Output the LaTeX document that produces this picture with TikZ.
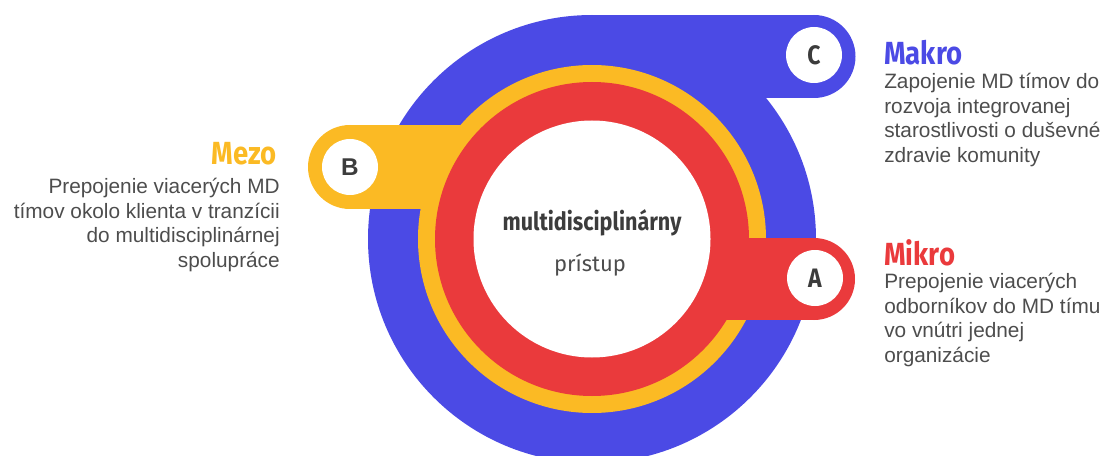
\documentclass[tikz,border=0pt]{standalone}
\usepackage{fontspec}
\setmainfont{Liberation Sans}
\newfontfamily\condfont[FakeStretch=0.86]{Fira Sans}
\newfontfamily\firafont{Fira Sans}
\definecolor{ringblue}{HTML}{4B4AE5}
\definecolor{ringyellow}{HTML}{FBBA24}
\definecolor{ringred}{HTML}{EA3A3C}
\definecolor{bodygray}{HTML}{4D4D4D}
\definecolor{lettergray}{HTML}{3C3C3C}
\begin{document}
\begin{tikzpicture}[x=0.75pt,y=-0.75pt,
  heading/.style={inner sep=0pt, font=\condfont\bfseries\fontsize{24}{28}\selectfont},
  desc/.style={inner sep=0pt, font=\fontsize{15.6}{18.4}\selectfont, text=bodygray},
  badge/.style={inner sep=0pt, text=lettergray, font=\condfont\bfseries\fontsize{20}{22}\selectfont}]
\useasboundingbox (0,0) rectangle (1107,456);

% outer ring (Makro) with its tab
\fill[ringblue] (592,239) circle (224);
\fill[ringblue] (592,15) rectangle (814,98);
\fill[ringblue] (814,56.5) circle (41.5);
% middle ring (Mezo) with its tab
\fill[ringyellow] (592,239) circle (174);
\fill[ringyellow] (350,125) rectangle (592,209);
\fill[ringyellow] (350,167) circle (42);
% inner ring (Mikro) with its tab
\fill[ringred] (592,239) circle (157);
\fill[ringred] (592,238) rectangle (814,320);
\fill[ringred] (814,279) circle (41);
% centre disc and tab discs
\fill[white] (592,239) circle (118.5);
\fill[white] (814,55) circle (28);
\fill[white] (350,167) circle (28);
\fill[white] (815,278) circle (28);

% tab letters
\node[badge, anchor=center] (letterC) at (814,55) {C};
\node[badge, anchor=center] (letterA) at (815,278) {A};
\node[inner sep=0pt, text=lettergray, font=\bfseries\fontsize{18.2}{20}\selectfont, anchor=center] (letterB) at (350,167) {B};

% centre label
\node[inner sep=0pt, anchor=base, text=lettergray, font=\condfont\bfseries\fontsize{18.8}{20}\selectfont] (centreTitle) at (592,231) {multidisciplinárny};
\node[inner sep=0pt, anchor=base, text=bodygray, font=\firafont\fontsize{16.5}{20}\selectfont] (centreSub) at (590,272) {prístup};

% Makro
\node[heading, text=ringblue, anchor=base west] (makroHead) at (884,65) {Makro};
\node[desc, align=left, anchor=north west] (makroText) at (884,73)
  {Zapojenie MD tímov do\\rozvoja integrovanej\\starostlivosti o duševné\\zdravie komunity};

% Mezo
\node[heading, text=ringyellow, anchor=base east] (mezoHead) at (277,165) {Mezo};
\node[desc, align=right, anchor=north east] (mezoText) at (280,178)
  {Prepojenie viacerých MD\\tímov okolo klienta v tranzícii\\do multidisciplinárnej\\spolupráce};

% Mikro
\node[heading, text=ringred, anchor=base west] (mikroHead) at (884,265) {Mikro};
\node[desc, align=left, anchor=north west] (mikroText) at (884,273)
  {Prepojenie viacerých\\odborníkov do MD tímu\\vo vnútri jednej\\organizácie};
\end{tikzpicture}
\end{document}
